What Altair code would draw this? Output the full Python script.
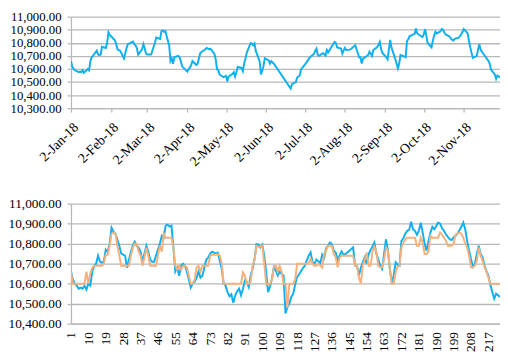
import altair as alt
import pandas as pd

# ---------------- data ----------------
actual = [
    10660, 10620, 10600, 10590, 10575, 10580, 10575, 10590, 10570, 10600,
    10590, 10660, 10690, 10700, 10740, 10710, 10705, 10710, 10770, 10760,
    10800, 10880, 10860, 10850, 10820, 10790, 10750, 10745, 10740, 10680,
    10720, 10760, 10790, 10810, 10790, 10780, 10760, 10710, 10750, 10790,
    10760, 10720, 10710, 10710, 10740, 10770, 10800, 10840, 10830, 10890,
    10895, 10885, 10890, 10780, 10660, 10680, 10640, 10690, 10700, 10690,
    10660, 10620, 10580, 10600, 10610, 10630, 10660, 10630, 10640, 10680,
    10720, 10730, 10750, 10760, 10755, 10750, 10755, 10715, 10674, 10600,
    10591, 10558, 10537, 10547, 10504, 10542, 10562, 10575, 10542, 10575,
    10616, 10608, 10583, 10641, 10677, 10723, 10798, 10795, 10781, 10795,
    10740, 10657, 10558, 10586, 10625, 10682, 10666, 10641, 10660, 10650,
    10640, 10451, 10484, 10500, 10534, 10550, 10596, 10633, 10646, 10662,
    10677, 10690, 10715, 10740, 10756, 10707, 10700, 10720, 10712, 10702,
    10745, 10728, 10776, 10790, 10806, 10798, 10765, 10756, 10718, 10740,
    10761, 10745, 10748, 10756, 10765, 10773, 10781, 10690, 10690, 10641,
    10679, 10707, 10732, 10700, 10745, 10768, 10785, 10806, 10751, 10723,
    10690, 10674, 10748, 10822, 10765, 10674, 10603, 10641, 10707, 10695,
    10690, 10814, 10827, 10850, 10864, 10869, 10910, 10872, 10864, 10844,
    10864, 10905, 10855, 10798, 10765, 10814, 10855, 10884, 10872, 10888,
    10905, 10900, 10877, 10864, 10847, 10834, 10822, 10818, 10831, 10839,
    10850, 10867, 10884, 10905, 10872, 10814, 10765, 10723, 10685, 10700,
    10748, 10790, 10748, 10732, 10690, 10662, 10641, 10596, 10558, 10525,
    10550, 10542, 10534,
]

forecast = [
    10660, 10600, 10600, 10600, 10600, 10600, 10600, 10600, 10660, 10600,
    10650, 10680, 10690, 10690, 10690, 10690, 10690, 10700, 10745, 10745,
    10790, 10850, 10855, 10850, 10790, 10740, 10690, 10690, 10690, 10690,
    10690, 10740, 10780, 10800, 10800, 10760, 10740, 10690, 10730, 10780,
    10740, 10690, 10690, 10690, 10690, 10740, 10790, 10760, 10850, 10830,
    10830, 10830, 10830, 10780, 10690, 10670, 10690, 10670, 10690, 10690,
    10680, 10640, 10600, 10600, 10620, 10680, 10690, 10660, 10690, 10690,
    10690, 10690, 10740, 10745, 10745, 10745, 10748, 10740, 10700, 10600,
    10600, 10600, 10600, 10600, 10600, 10600, 10600, 10600, 10600, 10657,
    10640, 10600, 10600, 10610, 10690, 10720, 10790, 10785, 10785, 10790,
    10700, 10600, 10600, 10600, 10620, 10690, 10690, 10660, 10690, 10660,
    10600, 10600, 10480, 10600, 10600, 10600, 10620, 10700, 10700, 10700,
    10700, 10700, 10700, 10700, 10725, 10700, 10690, 10690, 10700, 10690,
    10680, 10748, 10765, 10790, 10790, 10790, 10748, 10732, 10682, 10730,
    10740, 10740, 10740, 10740, 10740, 10740, 10740, 10690, 10690, 10630,
    10600, 10690, 10720, 10756, 10690, 10690, 10760, 10785, 10760, 10690,
    10682, 10682, 10720, 10781, 10765, 10674, 10600, 10600, 10657, 10685,
    10690, 10781, 10806, 10820, 10830, 10830, 10830, 10830, 10830, 10790,
    10790, 10830, 10806, 10748, 10748, 10760, 10840, 10830, 10830, 10830,
    10830, 10855, 10845, 10830, 10815, 10790, 10790, 10790, 10800, 10845,
    10850, 10855, 10850, 10830, 10800, 10781, 10740, 10682, 10682, 10690,
    10715, 10781, 10740, 10715, 10682, 10660, 10630, 10600, 10600, 10600,
    10600, 10600, 10600,
]

# trading days: weekdays of 2018 without the market holidays
holidays = [
    "2018-02-16", "2018-03-30", "2018-05-01",
    "2018-06-11", "2018-06-12", "2018-06-13", "2018-06-14", "2018-06-15",
    "2018-06-18", "2018-06-19", "2018-06-20", "2018-06-27",
    "2018-08-17", "2018-08-22", "2018-09-11", "2018-11-20",
]
dates = [d.strftime("%Y-%m-%d") for d in pd.bdate_range("2018-01-02", "2018-11-30")
         if d.strftime("%Y-%m-%d") not in holidays]

n = min(len(dates), len(actual), len(forecast))
dates, actual, forecast = dates[:n], actual[:n], forecast[:n]
index = list(range(1, n + 1))

top_y_ticks = [10300, 10400, 10500, 10600, 10700, 10800, 10900, 11000]
bottom_y_ticks = [10400, 10500, 10600, 10700, 10800, 10900, 11000]
bottom_x_ticks = list(range(1, 218, 9))
month_ticks = [1, 2, 3, 4, 5, 6, 7, 8, 9, 10, 11]
series_names = ["actual", "forecast"]

df = pd.DataFrame({"date": dates, "idx": index, "actual": actual, "forecast": forecast})

# ---------------- styling ----------------
FONT = "Liberation Serif"
BLUE = "#0fb0ee"
ORANGE = "#f5b07c"
GRID = "#b8b8b8"

x_top_scale = alt.Scale(
    type="utc", nice=False,
    domain=[alt.DateTime(year=2018, month=1, date=2, utc=True),
            alt.DateTime(year=2018, month=11, date=30, utc=True)],
)
y_top_scale = alt.Scale(domain=[10300, 11000], nice=False, zero=False)

top = alt.Chart(df).mark_line(color=BLUE, strokeWidth=2, clip=True).encode(
    x=alt.X(
        "date:T", scale=x_top_scale,
        axis=alt.Axis(
            values=[alt.DateTime(year=2018, month=m, date=2, utc=True) for m in month_ticks],
            format="%-d-%b-%y", labelAngle=-45, grid=False,
            labelFontSize=14, labelPadding=8,
        ),
    ),
    y=alt.Y("actual:Q", scale=y_top_scale,
            axis=alt.Axis(values=top_y_ticks, grid=True, labelFontSize=13)),
).properties(width=436, height=93)

x_bot_scale = alt.Scale(domain=[1, n], nice=False, zero=False)
y_bot_scale = alt.Scale(domain=[10400, 11000], nice=False, zero=False)

bottom = alt.Chart(df).transform_fold(
    series_names, as_=["series", "value"]
).mark_line(strokeWidth=2, clip=True).encode(
    x=alt.X("idx:Q", scale=x_bot_scale,
            axis=alt.Axis(values=bottom_x_ticks, labelAngle=-90, grid=False, ticks=False,
                          labelFontSize=13.5, labelPadding=8)),
    y=alt.Y("value:Q", scale=y_bot_scale,
            axis=alt.Axis(values=bottom_y_ticks, grid=True, labelFontSize=13.5)),
    color=alt.Color("series:N", scale=alt.Scale(domain=series_names, range=[BLUE, ORANGE]),
                    legend=None),
    order=alt.Order("series:N"),
).properties(width=436, height=122)

chart = alt.vconcat(top, bottom, spacing=28).properties(
    padding={"left": 0, "right": 0, "top": 0, "bottom": 0}
).configure_view(
    strokeWidth=0
).configure_axis(
    title=None,
    labelFont=FONT, labelColor="#000000", labelOverlap=False,
    domainColor=GRID, domainWidth=1.3,
    tickColor=GRID, tickWidth=1.3, tickSize=4,
    gridColor=GRID, gridWidth=1.3,
).configure_axisY(
    format=",.2f", labelPadding=6, minExtent=64, maxExtent=64,
)

chart.save("out.html", embed_options={"renderer": "svg", "actions": False})
